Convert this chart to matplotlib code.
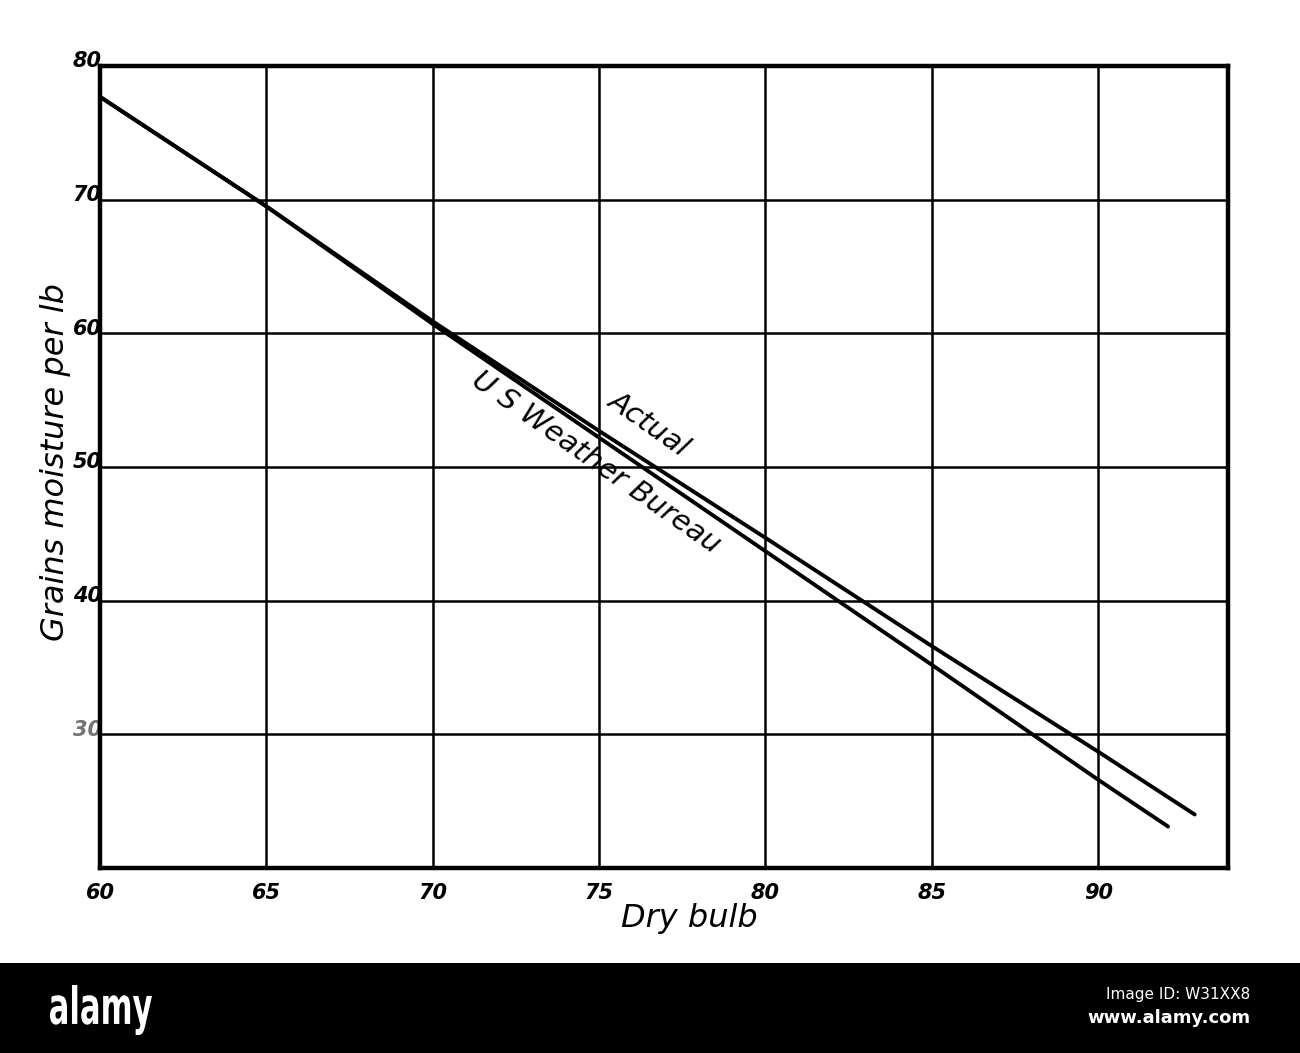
import matplotlib
matplotlib.use("Agg")
import matplotlib.pyplot as plt
from matplotlib.patches import Rectangle, PathPatch
from matplotlib.textpath import TextPath
from matplotlib.font_manager import FontProperties
from matplotlib.transforms import Affine2D

# Data
actual_x = [60, 65, 70, 75, 80, 85, 90, 92.9]
actual_y = [77.7, 69.5, 60.9, 52.7, 44.7, 36.6, 28.7, 24.0]
bureau_x = [60, 65, 70, 75, 80, 85, 90, 92.1]
bureau_y = [77.7, 69.5, 60.7, 52.2, 43.7, 35.2, 26.6, 23.1]
x_ticks = [60, 65, 70, 75, 80, 85, 90]
y_ticks = [30, 40, 50, 60, 70, 80]

W, H = 1300, 1053
fig = plt.figure(figsize=(13, 10.53), dpi=100)
ax = fig.add_axes([0.0769, 0.1757, 0.8677, 0.7616])
ax.set_xlim(60, 93.9)
ax.set_ylim(20, 80)

# grid
for xv in x_ticks[1:]:
    ax.axvline(xv, color="black", lw=1.8, zorder=1)
for yv in y_ticks[:-1]:
    ax.axhline(yv, color="black", lw=1.8, zorder=1)

ax.plot(actual_x, actual_y, color="black", lw=2.8, solid_capstyle="round", zorder=3)
ax.plot(bureau_x, bureau_y, color="black", lw=2.8, solid_capstyle="round", zorder=3)

for s in ax.spines.values():
    s.set_linewidth(3.2)
ax.set_xticks([])
ax.set_yticks([])

font = dict(family="DejaVu Sans", style="italic", weight="bold", color="black")
for xv in x_ticks:
    ax.text(xv, 18.9, str(xv), ha="center", va="top", fontsize=15, **font)
for yv in y_ticks:
    ax.text(60.05, yv + 0.35, str(yv), ha="right", va="center", fontsize=15,
            **font, alpha=0.55 if yv == 30 else 1.0)

ax.text(77.7, 17.4, "Dry bulb", ha="center", va="top", fontsize=23,
        family="DejaVu Sans", style="italic", color="black")
fig.text(0.043, 0.561, "Grains moisture per lb", rotation=90, ha="center",
         va="center", fontsize=23, family="DejaVu Sans", style="italic",
         color="black")

ax.text(76.5, 53.2, "Actual", rotation=-35, ha="center", va="center",
        fontsize=21, family="DejaVu Sans", style="italic", color="black",
        rotation_mode="anchor")
ax.text(74.9, 50.3, "U S Weather Bureau", rotation=-35, ha="center",
        va="center", fontsize=21, family="DejaVu Sans", style="italic",
        color="black", rotation_mode="anchor")

# bottom band
fig.patches.append(Rectangle((0, 0), 1, 0.0855, transform=fig.transFigure,
                             facecolor="black", edgecolor="none"))
fp = FontProperties(family="DejaVu Sans", weight="bold")
tp = TextPath((0, 0), "alamy", size=40, prop=fp)
ext = tp.get_extents()
sx = 102.0 / ext.width
sy = 50.0 / ext.height
tr = Affine2D().translate(-ext.x0, -ext.y0).scale(sx, sy).translate(50, H - 1035) + \
    Affine2D().scale(1.0 / W, 1.0 / H) + fig.transFigure
fig.patches.append(PathPatch(tp, transform=tr, facecolor="white", edgecolor="none"))

fig.text(0.962, 0.056, "Image ID: W31XX8", ha="right", va="center",
         fontsize=11, color="white", family="Liberation Sans Narrow")
fig.text(0.962, 0.033, "www.alamy.com", ha="right", va="center",
         fontsize=13, weight="bold", color="white", family="Liberation Sans Narrow")

fig.savefig("out.png", dpi=100, facecolor="white")
